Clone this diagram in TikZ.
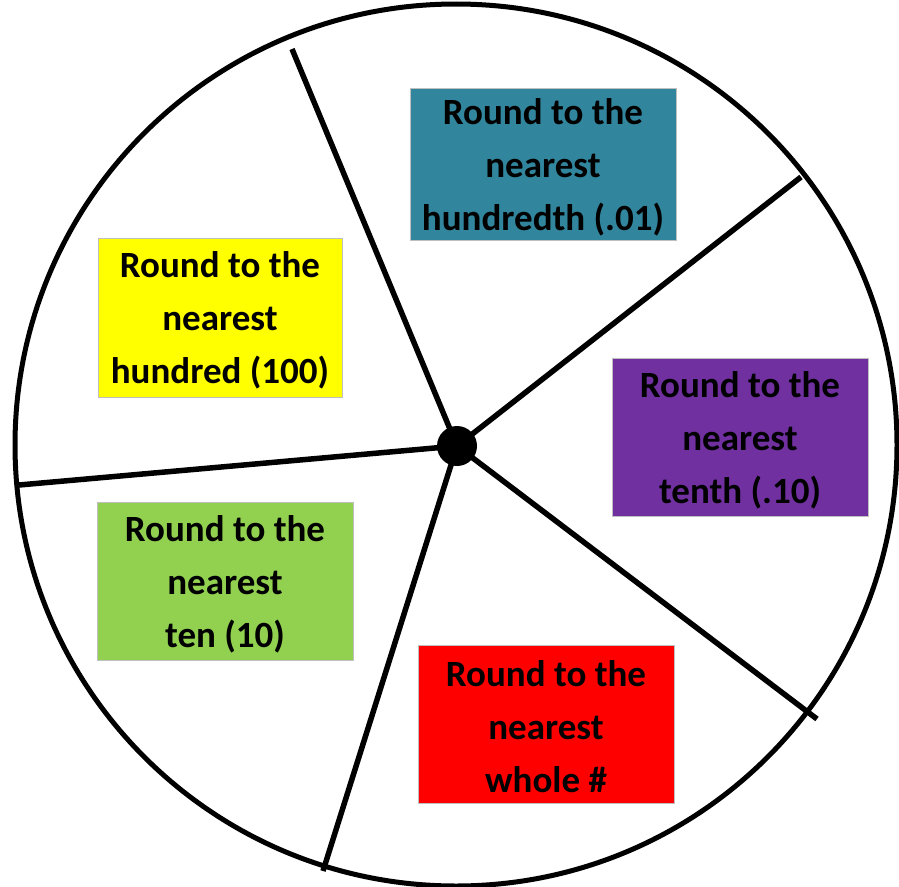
\documentclass[tikz,border=0pt]{standalone}
\usepackage{fontspec}
\setmainfont{Carlito}
\definecolor{teal1}{HTML}{31859C}
\definecolor{purp1}{HTML}{7030A0}
\definecolor{green1}{HTML}{92D050}
\definecolor{yell1}{HTML}{FFFF00}
\definecolor{red1}{HTML}{FF0000}
\newcommand{\topstrutx}{\rule{0pt}{32pt}}
\begin{document}
\begin{tikzpicture}[x=1pt,y=-1pt,
  label box/.style={draw=black!25,line width=0.8pt,inner sep=0pt,
    minimum width=#1,align=center,
    font=\fontsize{37}{53}\selectfont\bfseries,text=black},
  spoke/.style={line width=5.5pt},
]
\useasboundingbox (0,0) rectangle (899,886);
\draw[line width=5pt] (456,445) circle[radius=441];
\node[circle,fill=black,minimum size=40pt,inner sep=0pt] (c) at (457,446) {};
\coordinate (e1) at (292,49);
\coordinate (e2) at (801,177);
\coordinate (e3) at (19,485);
\coordinate (e4) at (323,871);
\coordinate (e5) at (817,719);
\foreach \e in {e1,e2,e3,e4,e5} \draw[spoke] (c.center) -- (\e);
\node[label box=266pt,fill=teal1,minimum height=152pt] (t) at (543,164)
  {\topstrutx Round to the\\nearest\\hundredth (.01)};
\node[label box=244pt,fill=yell1,minimum height=159pt] (y) at (220,317.5)
  {\topstrutx Round to the\\nearest\\hundred (100)};
\node[label box=256pt,fill=purp1,minimum height=158pt] (p) at (740,437)
  {\topstrutx Round to the\\nearest\\tenth (.10)};
\node[label box=256pt,fill=green1,minimum height=158pt] (g) at (225,581)
  {\topstrutx Round to the\\nearest\\ten (10)};
\node[label box=256pt,fill=red1,minimum height=158pt] (r) at (546,724)
  {\topstrutx Round to the\\nearest\\whole \#};
\end{tikzpicture}
\end{document}
